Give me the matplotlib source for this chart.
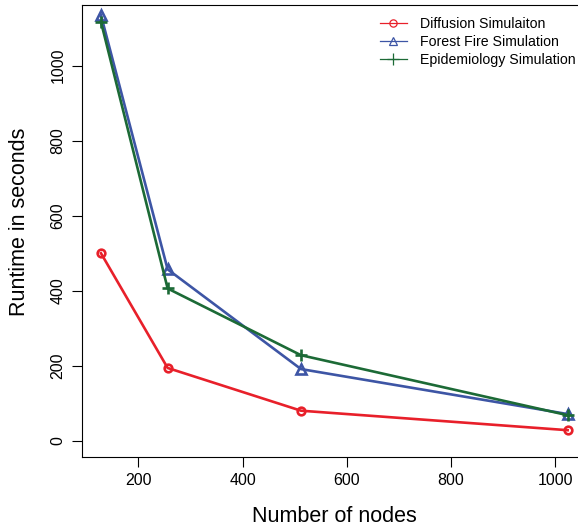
import matplotlib.pyplot as plt
from matplotlib.lines import Line2D

plt.rcParams['font.family'] = ['Liberation Sans', 'DejaVu Sans']

# Runtimes per number of nodes
nodes = [128, 256, 512, 1024]
diffusion = [500, 194, 80, 28]
forest_fire = [1135, 457, 191, 71]
epidemiology = [1117, 406, 228, 68]

labels = ["Diffusion Simulaiton", "Forest Fire Simulation", "Epidemiology Simulation"]
colors = ["#E8202A", "#3D55A5", "#1C6A36"]
markers = ["o", "^", "+"]
msizes = [5.5, 6.5, 8.5]

W, H = 578, 531
fig = plt.figure(figsize=(W / 100, H / 100), dpi=100)
# plot region runs past the right edge of the canvas
left, right, top, bottom = 82.3, 586.3, 5.0, 457.3
ax = fig.add_axes([left / W, 1 - bottom / H, (right - left) / W, (bottom - top) / H])

series = [diffusion, forest_fire, epidemiology]
for vals, c, m, ms in zip(series, colors, markers, msizes):
    ax.plot(nodes, vals, color=c, lw=1.9, marker=m, ms=ms, mfc="none",
            mec=c, mew=1.9, clip_on=False)

ax.set_xlim(92.16, 1059.84)
ax.set_ylim(-44.3, 1162)
ax.set_xticks([200, 400, 600, 800, 1000])
ax.set_yticks([0, 200, 400, 600, 800, 1000])
ax.tick_params(direction="out", length=7, width=0.8, labelsize=11.5, colors="black")
ax.tick_params(axis="x", pad=4)
ax.tick_params(axis="y", pad=5)
for lab in ax.get_yticklabels():
    lab.set_rotation(90)
    lab.set_va("center")
for s in ax.spines.values():
    s.set_linewidth(0.8)

fig.text(334 / W, 1 - 516 / H, "Number of nodes", ha="center", va="center", fontsize=15.5)
fig.text(20 / W, 1 - 222 / H, "Runtime in seconds", ha="center", va="center",
         rotation=90, fontsize=15.5)

handles = [Line2D([0], [0], color=c, lw=0.9, marker=m, ms=ms * 0.95,
                  mfc="none", mec=c, mew=0.9)
           for c, m, ms in zip(colors, markers, msizes)]
fig.legend(handles, labels, loc="upper left", bbox_to_anchor=(380 / W, 1 - 17 / H),
           frameon=False, fontsize=10.2, handlelength=1.9, handletextpad=0.9,
           labelspacing=0.27, borderpad=0, borderaxespad=0)

fig.savefig("out.png", dpi=100)
